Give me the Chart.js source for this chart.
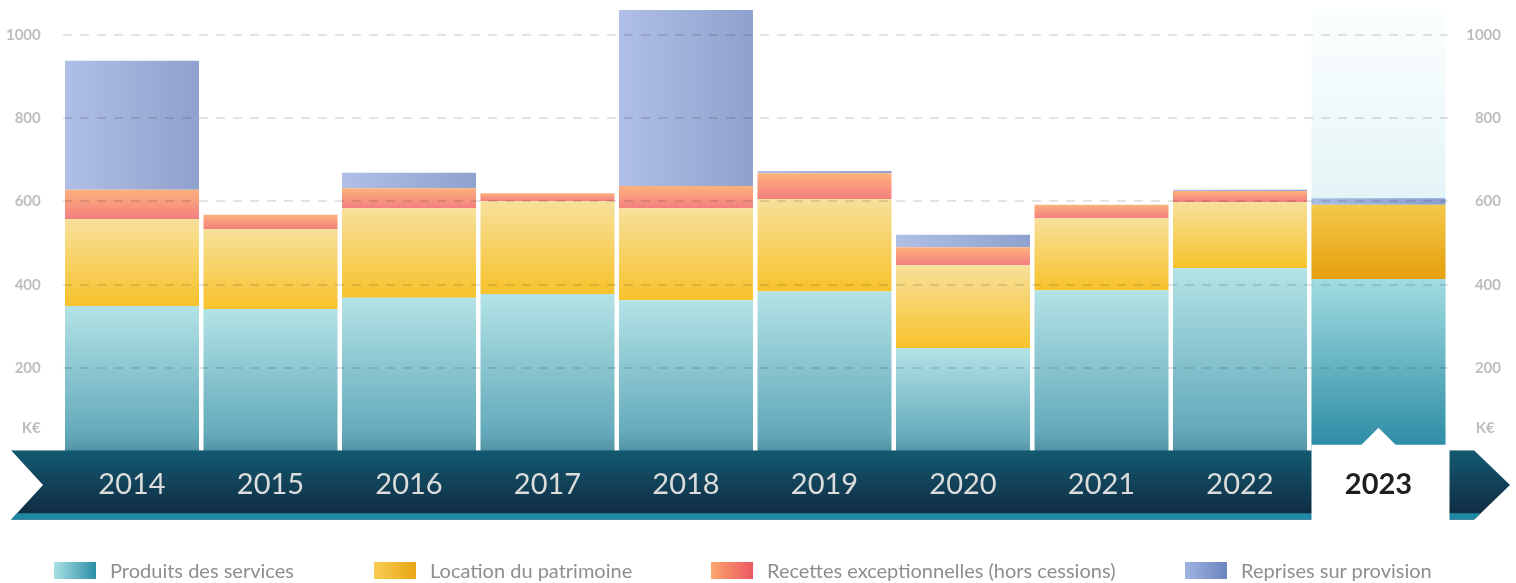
<!DOCTYPE html>
<html>
<head>
<meta charset="utf-8">
<script src="https://cdn.jsdelivr.net/npm/chart.js@4/dist/chart.umd.min.js"></script>
<style>
html,body{margin:0;padding:0;background:#fff;}
#wrap{position:relative;width:1516px;height:583px;overflow:hidden;background:#fff;}
#c{position:absolute;left:0;top:0;}
#legend{position:absolute;left:0;top:0;width:1516px;height:583px;pointer-events:none;font-family:Lato,'Open Sans',sans-serif;}
.item{position:absolute;top:562px;height:17px;display:flex;align-items:center;white-space:nowrap;}
.box{width:42px;height:17px;margin-right:14px;flex:none;}
.lbl{font-size:20px;color:#8e8e8e;line-height:17px;}
</style>
</head>
<body>
<div id="wrap">
  <canvas id="c" width="1516" height="583"></canvas>
  <div id="legend"></div>
</div>
<script>
// ---- data ----
const YEARS = ['2014', '2015', '2016', '2017', '2018', '2019', '2020', '2021', '2022', '2023'];
const PRODUITS = [349, 342, 369, 378, 363, 384, 248, 387, 440, 414];
const LOCATION = [209, 192, 215, 223, 221, 222, 199, 173, 159, 178];
const RECETTES = [70, 34, 48, 19, 53, 62, 43, 32, 26, 0];
const REPRISES = [310, 0, 37, 0, 423, 5, 30, 0, 3, 16];
const SERIES = ['Produits des services', 'Location du patrimoine', 'Recettes exceptionnelles (hors cessions)', 'Reprises sur provision'];
const Y_TICKS = [200, 400, 600, 800, 1000];
const Y_MAX = 1060;
const UNIT = 'K€';
const HIGHLIGHT = '2023';

// ---- styles ----
const FONT = "Lato, 'Open Sans', sans-serif";
const BAR_PCT = 0.9675;
const DATA = [PRODUITS, LOCATION, RECETTES, REPRISES];
const STYLES = [
  { horiz: false,
    normal: [[0, '#b3e3e6'], [0.88, '#64aabb'], [1, '#5392a4']],
    hi: [[0, '#a1dce1'], [1, '#2a8aa3']],
    legend: ['#a9e1e4', '#2b8ea7'] },
  { horiz: false,
    normal: [[0, '#f7e09b'], [1, '#f7c22b']],
    hi: [[0, '#f3c84a'], [1, '#e69f0c']],
    legend: ['#f8cc52', '#e8a614'] },
  { horiz: false,
    normal: [[0, '#fdb17c'], [1, '#f37f80']],
    hi: [[0, '#fdb17c'], [1, '#f37f80']],
    legend: ['#fda66c', '#ec5863'] },
  { horiz: true,
    normal: [[0, '#afbfe6'], [1, '#8fa1cd']],
    hi: [[0, '#a9bce6'], [1, '#8a9ecf']],
    legend: ['#a0b4e2', '#6c84bf'] }
];
const LEGEND_X = [54, 374, 711, 1185];

Chart.defaults.font.family = FONT;

function segBounds(chart, di, i) {
  let base = 0;
  for (let k = 0; k < di; k++) base += DATA[k][i];
  const ys = chart.scales.y, xs = chart.scales.x;
  const top = ys.getPixelForValue(base + DATA[di][i]);
  const bot = ys.getPixelForValue(base);
  const cx = xs.getPixelForValue(i);
  const half = xs.width / YEARS.length * BAR_PCT / 2;
  return { top, bot, left: cx - half, right: cx + half };
}

function makeFill(di) {
  const st = STYLES[di];
  return (ctx) => {
    const chart = ctx.chart;
    if (!chart.chartArea || ctx.type !== 'data' || !chart.scales.y || !chart.scales.x) return st.normal[0][1];
    const i = ctx.dataIndex;
    const b = segBounds(chart, di, i);
    if (!isFinite(b.top) || !isFinite(b.bot)) return st.normal[0][1];
    const stops = YEARS[i] === HIGHLIGHT ? st.hi : st.normal;
    const g = st.horiz
      ? chart.ctx.createLinearGradient(b.left, 0, b.right, 0)
      : chart.ctx.createLinearGradient(0, b.top, 0, Math.max(b.bot, b.top + 1));
    stops.forEach(([o, c]) => g.addColorStop(o, c));
    return g;
  };
}

const highlightPlugin = {
  id: 'highlightBg',
  beforeDatasetsDraw(chart) {
    const { ctx, chartArea, scales } = chart;
    const i = YEARS.indexOf(HIGHLIGHT);
    if (i < 0) return;
    const cx = scales.x.getPixelForValue(i);
    const half = scales.x.width / YEARS.length * BAR_PCT / 2;
    const g = ctx.createLinearGradient(0, chartArea.top, 0, scales.y.getPixelForValue(600));
    g.addColorStop(0, 'rgba(236,248,249,0.25)');
    g.addColorStop(1, '#e3f4f6');
    ctx.save();
    ctx.fillStyle = g;
    ctx.fillRect(cx - half, chartArea.top, half * 2, chartArea.bottom - chartArea.top);
    ctx.restore();
  }
};

const bandPlugin = {
  id: 'timelineBand',
  afterDatasetsDraw(chart) {
    const { ctx, chartArea, scales, width } = chart;
    const top = chartArea.bottom - 1;
    const h = 69.5;
    const bottom = top + h, mid = top + h / 2;
    const left = 11, notch = 43, tip = width - 6, shoulder = width - 42;
    ctx.save();
    ctx.beginPath();
    ctx.moveTo(left, top);
    ctx.lineTo(shoulder, top);
    ctx.lineTo(tip, mid);
    ctx.lineTo(shoulder, bottom);
    ctx.lineTo(left, bottom);
    ctx.lineTo(notch, mid);
    ctx.closePath();
    ctx.clip();
    const g = ctx.createLinearGradient(0, top, 0, bottom);
    g.addColorStop(0, '#135a71');
    g.addColorStop(1, '#10283e');
    ctx.fillStyle = g;
    ctx.fillRect(0, top, width, h);
    ctx.fillStyle = '#1f89a5';
    ctx.fillRect(0, bottom - 6.5, width, 6.5);
    ctx.restore();

    // white label box for highlighted year
    const i = YEARS.indexOf(HIGHLIGHT);
    if (i >= 0) {
      const cx = scales.x.getPixelForValue(i);
      const half = scales.x.width / YEARS.length * BAR_PCT / 2;
      const bTop = chartArea.bottom - 6.5;
      ctx.save();
      ctx.fillStyle = '#ffffff';
      ctx.fillRect(cx - half, bTop, half * 2 + 4, bottom + 0.5 - bTop);
      ctx.beginPath();
      ctx.moveTo(cx - 17.5, bTop + 0.5);
      ctx.lineTo(cx, bTop - 17);
      ctx.lineTo(cx + 17.5, bTop + 0.5);
      ctx.closePath();
      ctx.fill();
      ctx.restore();
    }
  }
};

const unitPlugin = {
  id: 'unitLabels',
  afterDraw(chart) {
    const { ctx, chartArea, scales } = chart;
    ctx.save();
    ctx.font = 'bold 15px ' + FONT;
    ctx.fillStyle = '#bdbdbd';
    ctx.textBaseline = 'middle';
    const y = chartArea.bottom - 23;
    ctx.textAlign = 'right';
    ctx.fillText(UNIT, scales.y.right - 22, y);
    ctx.textAlign = 'left';
    ctx.fillText(UNIT, scales.y2.left + 28, y);
    ctx.restore();
  }
};

const yTickOpts = {
  color: '#bdbdbd',
  padding: 0,
  callback: (v) => String(v),
  font: { family: FONT, size: 15, weight: 'bold' }
};

new Chart(document.getElementById('c'), {
  type: 'bar',
  data: {
    labels: YEARS,
    datasets: DATA.map((arr, di) => ({
      label: SERIES[di],
      data: arr,
      backgroundColor: makeFill(di),
      borderWidth: 0,
      barPercentage: BAR_PCT,
      categoryPercentage: 1,
      yAxisID: 'y'
    }))
  },
  options: {
    responsive: false,
    animation: false,
    devicePixelRatio: 1,
    layout: { padding: { top: 10, right: 15, left: 0, bottom: 81.75 } },
    plugins: {
      legend: { display: false },
      tooltip: { enabled: false }
    },
    scales: {
      x: {
        stacked: true,
        afterFit: (s) => { s.height = 50; },
        grid: { display: false, drawTicks: false },
        border: { display: false },
        ticks: {
          z: 1,
          padding: 16.35,
          maxRotation: 0,
          autoSkip: false,
          color: (c) => (YEARS[c.index] === HIGHLIGHT ? '#1e1e1e' : '#dcdcdc'),
          font: (c) => ({ family: FONT, size: 29, lineHeight: 1.2, weight: YEARS[c.index] === HIGHLIGHT ? 'bold' : 'normal' })
        }
      },
      y: {
        stacked: true,
        position: 'left',
        min: 0,
        max: Y_MAX,
        afterFit: (s) => { s.width = 62.75; },
        afterBuildTicks: (s) => { s.ticks = Y_TICKS.map((v) => ({ value: v })); },
        grid: { color: 'rgba(0,0,0,0.11)', lineWidth: 2, drawTicks: true, tickLength: 22, tickColor: 'rgba(0,0,0,0)', z: 1 },
        border: { display: false, dash: [9, 8] },
        ticks: yTickOpts
      },
      y2: {
        position: 'right',
        min: 0,
        max: Y_MAX,
        afterFit: (s) => { s.width = 53.25; },
        afterBuildTicks: (s) => { s.ticks = Y_TICKS.map((v) => ({ value: v })); },
        grid: { display: false, drawTicks: false },
        border: { display: false },
        ticks: Object.assign({ crossAlign: 'far' }, yTickOpts)
      }
    }
  },
  plugins: [highlightPlugin, bandPlugin, unitPlugin]
});

// HTML legend
const legendEl = document.getElementById('legend');
SERIES.forEach((name, di) => {
  const item = document.createElement('div');
  item.className = 'item';
  item.style.left = LEGEND_X[di] + 'px';
  const box = document.createElement('span');
  box.className = 'box';
  box.style.background = 'linear-gradient(to right, ' + STYLES[di].legend[0] + ', ' + STYLES[di].legend[1] + ')';
  const lbl = document.createElement('span');
  lbl.className = 'lbl';
  lbl.textContent = name;
  item.appendChild(box);
  item.appendChild(lbl);
  legendEl.appendChild(item);
});
</script>
</body>
</html>
